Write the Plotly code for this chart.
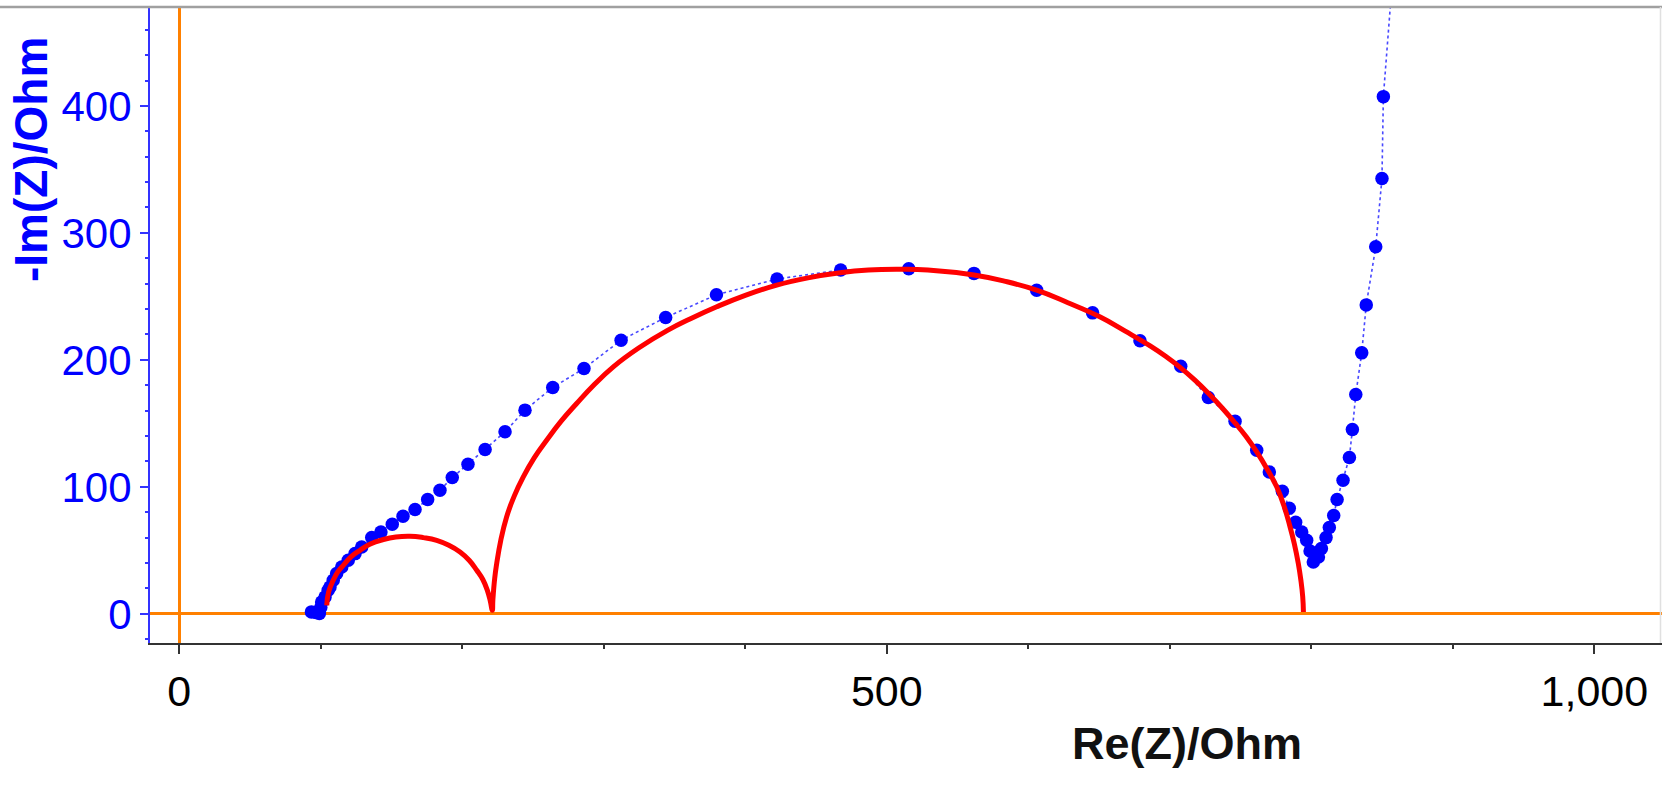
import plotly.graph_objects as go

# Measured impedance data (Re(Z), -Im(Z)) in Ohm, high -> low frequency
re_z = [93.4, 96.5, 99.0, 100.0, 100.6, 103.0, 105.2, 106.5, 108.8, 111.2, 114.8,
        119.4, 124.2, 128.9, 136.0, 142.5, 150.5, 158.1, 166.6, 175.5, 184.2,
        192.9, 204.0, 216.1, 230.2, 244.3, 263.9, 286.0, 312.2, 343.7, 379.6,
        422.4, 467.4, 515.5, 561.6, 605.9, 645.4, 678.9, 707.7, 727.2, 746.1,
        761.4, 770.3, 779.5, 784.4, 788.9, 793.2, 796.7, 799.1, 801.4, 805.0,
        807.1, 810.4, 812.7, 815.8, 818.2, 822.4, 826.9, 829.0, 831.4, 835.6,
        838.8, 845.5, 849.9, 850.9, 858.0]
neg_im_z = [1.5, 1.0, 0.3, 5.0, 9.3, 13.2, 18.5, 21.1, 26.4, 31.7, 36.9,
            42.2, 47.4, 52.6, 60.0, 64.5, 70.5, 76.8, 82.1, 90.0, 97.3,
            107.3, 117.8, 129.4, 143.3, 160.4, 178.3, 193.2, 215.5, 233.4, 251.2,
            263.7, 270.7, 271.7, 268.1, 254.9, 237.0, 215.0, 195.0, 170.4, 151.7,
            128.8, 111.7, 96.5, 83.1, 72.1, 64.5, 57.9, 49.5, 40.8, 44.8,
            51.4, 60.0, 67.9, 77.4, 90.0, 105.2, 123.1, 145.2, 172.7, 205.5,
            243.3, 289.0, 342.9, 407.3, 510.0]

# Fitted model curve
fit_re = [104.2, 105.5, 108.8, 112.0, 115.9, 121.5, 127.7, 135.0, 144.2, 153.0,
          163.0, 172.5, 181.9, 190.5, 198.4, 205.0, 210.2, 214.5, 217.7, 219.8,
          221.2, 221.6, 222.9, 224.3, 227.2, 231.3, 236.6, 243.1, 250.8, 259.6,
          269.7, 280.8, 292.8, 306.7, 324.6, 345.0, 362.0, 379.8, 400.4, 422.2,
          444.3, 466.9, 487.0, 507.7, 529.0, 561.6, 583.0, 605.9, 628.0, 650.5,
          668.5, 686.1, 697.0, 707.7, 717.5, 727.2, 737.0, 746.1, 754.0, 761.4,
          768.5, 775.5, 780.5, 784.7, 788.0, 790.8, 792.6, 793.9, 794.4]
fit_im = [6.7, 17.0, 26.4, 33.0, 38.2, 45.0, 50.0, 55.0, 58.5, 60.5,
          61.1, 60.0, 57.9, 54.0, 48.7, 42.0, 34.3, 27.0, 18.5, 10.0,
          2.8, 11.0, 28.0, 39.6, 58.0, 76.3, 92.5, 107.8, 122.8, 136.7,
          151.5, 165.6, 180.0, 194.5, 209.3, 223.2, 232.8, 241.8, 251.0, 258.9,
          264.6, 268.6, 270.7, 271.3, 270.8, 266.8, 262.0, 254.9, 245.0, 233.9,
          222.6, 211.0, 202.8, 193.7, 184.2, 173.7, 162.1, 150.3, 139.4, 127.5,
          114.5, 100.0, 85.5, 69.5, 55.0, 39.5, 26.5, 13.5, 1.4]

x_tickvals = [0, 500, 1000]
x_ticktext = ["0", "500", "1,000"]
y_tickvals = [0, 100, 200, 300, 400]
y_ticktext = ["0", "100", "200", "300", "400"]

FONT = "Liberation Sans, Arial, sans-serif"
BLUE = "#0000FF"
ORANGE = "#FF8000"

fig = go.Figure()
fig.add_trace(go.Scatter(
    x=re_z, y=neg_im_z, mode="lines+markers",
    line=dict(color="rgba(40,40,255,0.85)", width=1.6, dash="dot"),
    marker=dict(color=BLUE, size=13.5, symbol="circle"),
    showlegend=False, hoverinfo="x+y"))
fig.add_trace(go.Scatter(
    x=fit_re, y=fit_im, mode="lines",
    line=dict(color="#FF0000", width=5, shape="spline", smoothing=1.3),
    showlegend=False, hoverinfo="x+y"))

fig.update_layout(
    width=1662, height=790, autosize=False,
    margin=dict(l=150, r=0, t=7, b=147, pad=0),
    paper_bgcolor="white", plot_bgcolor="white",
    font=dict(family=FONT),
    xaxis=dict(range=[-20.7, 1047.8], showgrid=False,
               showline=True, linecolor="#333333", linewidth=2,
               ticks="outside", ticklen=9, tickwidth=1.5, tickcolor="#333333",
               tickmode="array", tickvals=x_tickvals, ticktext=x_ticktext,
               tickfont=dict(size=43, color="black", family=FONT),
               minor=dict(tickmode="linear", tick0=0, dtick=100, ticks="outside",
                          ticklen=4, tickwidth=1.5, tickcolor="#333333", showgrid=False),
               zeroline=True, zerolinecolor=ORANGE, zerolinewidth=3),
    yaxis=dict(range=[-23.0, 477.9], showgrid=False,
               showline=True, linecolor="#3333FF", linewidth=2,
               ticks="outside", ticklen=8, tickwidth=1.5, tickcolor="#3333FF",
               tickmode="array", tickvals=y_tickvals, ticktext=y_ticktext,
               tickfont=dict(size=42, color=BLUE, family=FONT),
               minor=dict(tickmode="linear", tick0=0, dtick=20, ticks="outside",
                          ticklen=3, tickwidth=1.5, tickcolor="#3333FF", showgrid=False),
               zeroline=True, zerolinecolor=ORANGE, zerolinewidth=3),
    annotations=[
        dict(text="<b>-Im(Z)/Ohm</b>", xref="paper", yref="paper",
             x=(31 - 150) / 1512, y=(643 - 160) / 636, xanchor="center", yanchor="middle",
             textangle=-90, showarrow=False, font=dict(size=46, color=BLUE, family=FONT)),
        dict(text="<b>Re(Z)/Ohm</b>", xref="paper", yref="paper",
             x=(1187 - 150) / 1512, y=(643 - 744) / 636, xanchor="center", yanchor="middle",
             showarrow=False, font=dict(size=45, color="#111111", family=FONT)),
    ],
    shapes=[
        dict(type="line", xref="paper", yref="paper", x0=-150 / 1512, x1=1, y0=1, y1=1,
             line=dict(color="#A0A0A0", width=2.5)),
        dict(type="line", xref="paper", yref="paper", x0=1 - 1.5 / 1512, x1=1 - 1.5 / 1512,
             y0=0, y1=1, line=dict(color="#E0E0E0", width=1.5)),
    ],
)

fig.write_html("out.html", config={"displayModeBar": False},
               post_script="document.body.style.margin='0';document.body.style.padding='0';")
